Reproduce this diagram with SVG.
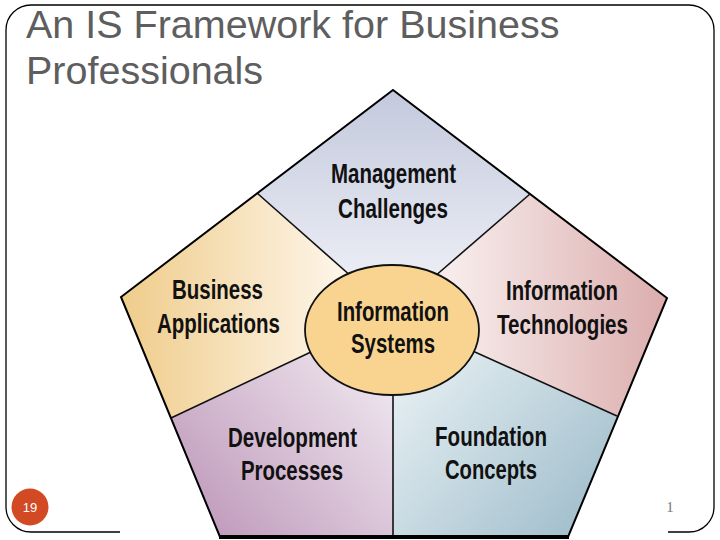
<svg xmlns="http://www.w3.org/2000/svg" width="720" height="540" viewBox="0 0 720 540">
<style>
.title{font-family:"Liberation Sans",Arial,sans-serif;font-size:39.5px;fill:#5e5e5e}
.lbl{font-family:"Liberation Sans",Arial,sans-serif;font-weight:bold;font-size:27px;fill:#111}
.div{stroke:#111;stroke-width:1.6;fill:none}
.sec{stroke:none}
</style>
<defs>
<linearGradient id="gTop" gradientUnits="userSpaceOnUse" x1="393" y1="90" x2="393" y2="290"><stop offset="0" stop-color="#c3c9dd"/><stop offset="1" stop-color="#eef0f6"/></linearGradient>
<linearGradient id="gLeft" gradientUnits="userSpaceOnUse" x1="121" y1="300" x2="335" y2="300"><stop offset="0" stop-color="#efcc8a"/><stop offset="1" stop-color="#fdf4e6"/></linearGradient>
<linearGradient id="gRight" gradientUnits="userSpaceOnUse" x1="667" y1="300" x2="455" y2="300"><stop offset="0" stop-color="#dcadad"/><stop offset="1" stop-color="#f6ebea"/></linearGradient>
<linearGradient id="gBL" gradientUnits="userSpaceOnUse" x1="220" y1="537" x2="393" y2="380"><stop offset="0" stop-color="#c19dbd"/><stop offset="1" stop-color="#efe6ef"/></linearGradient>
<linearGradient id="gBR" gradientUnits="userSpaceOnUse" x1="568" y1="537" x2="393" y2="380"><stop offset="0" stop-color="#a3c0cd"/><stop offset="1" stop-color="#e6eff3"/></linearGradient>
</defs>
<path d="M120,532 H31 A25,25 0 0 1 6,507 V30 A25,25 0 0 1 31,5 H689 A25,25 0 0 1 714,30 V507 A25,25 0 0 1 689,532 H668" fill="none" stroke="#000" stroke-width="1.3"/>
<text class="title" x="26" y="38">An IS Framework for Business</text>
<text class="title" x="26" y="84">Professionals</text>
<g id="mgmt">
<polygon class="sec" fill="url(#gTop)" points="257,193 393,90 530,194 434,277 393,325 352,277"/>
<text class="lbl" x="331" y="183" textLength="125" lengthAdjust="spacingAndGlyphs">Management</text>
<text class="lbl" x="338" y="218" textLength="110" lengthAdjust="spacingAndGlyphs">Challenges</text>
</g>
<g id="bizapps">
<polygon class="sec" fill="url(#gLeft)" points="257,193 121,297 171,418 330,343 393,325 352,277"/>
<text class="lbl" x="172" y="299" textLength="91" lengthAdjust="spacingAndGlyphs">Business</text>
<text class="lbl" x="157" y="333" textLength="123" lengthAdjust="spacingAndGlyphs">Applications</text>
</g>
<g id="infotech">
<polygon class="sec" fill="url(#gRight)" points="530,194 667,298 617,416 455,343 393,325 434,277"/>
<text class="lbl" x="506" y="300" textLength="112" lengthAdjust="spacingAndGlyphs">Information</text>
<text class="lbl" x="497" y="334" textLength="131" lengthAdjust="spacingAndGlyphs">Technologies</text>
</g>
<g id="devproc">
<polygon class="sec" fill="url(#gBL)" points="171,418 220,537 393,537 393,380 393,325 330,343"/>
<text class="lbl" x="228" y="447" textLength="129" lengthAdjust="spacingAndGlyphs">Development</text>
<text class="lbl" x="241" y="480" textLength="102" lengthAdjust="spacingAndGlyphs">Processes</text>
</g>
<g id="foundation">
<polygon class="sec" fill="url(#gBR)" points="393,537 568,537 617,416 455,343 393,325 393,380"/>
<text class="lbl" x="435" y="446" textLength="112" lengthAdjust="spacingAndGlyphs">Foundation</text>
<text class="lbl" x="445" y="479" textLength="92" lengthAdjust="spacingAndGlyphs">Concepts</text>
</g>
<g id="connectors">
<line class="div" x1="257" y1="193" x2="352" y2="277"/>
<line class="div" x1="530" y1="194" x2="434" y2="277"/>
<line class="div" x1="171" y1="418" x2="330" y2="343"/>
<line class="div" x1="617" y1="416" x2="455" y2="343"/>
<line class="div" x1="393" y1="537" x2="393" y2="380"/>
</g>
<g id="outline">
<polygon points="393,90 667,298 568,537 220,537 121,297" fill="none" stroke="#000" stroke-width="2" stroke-linejoin="miter"/>
<line x1="219" y1="537" x2="569" y2="537" stroke="#000" stroke-width="4"/>
</g>
<g id="infosys">
<ellipse cx="392" cy="330" rx="87" ry="65" fill="#f9d490" stroke="#111" stroke-width="1.8"/>
<text class="lbl" x="337" y="321" textLength="112" lengthAdjust="spacingAndGlyphs">Information</text>
<text class="lbl" x="351" y="353" textLength="84" lengthAdjust="spacingAndGlyphs">Systems</text>
</g>
<g id="pagenum">
<circle cx="30" cy="507" r="18.5" fill="#d24a24"/>
<text x="30" y="512" text-anchor="middle" font-family="Liberation Sans,Arial,sans-serif" font-size="13" fill="#fff">19</text>
</g>
<text x="670" y="512" text-anchor="middle" font-family="Liberation Serif,Times New Roman,serif" font-size="15" fill="#777">1</text>
</svg>
